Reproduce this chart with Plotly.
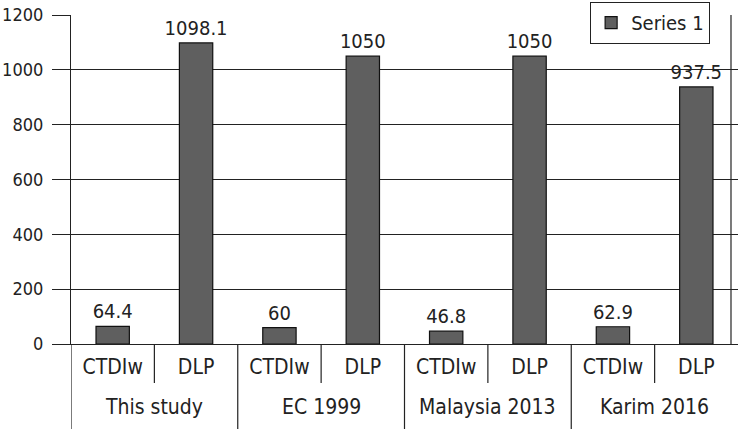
import plotly.graph_objects as go

groups = ["This study", "EC 1999", "Malaysia 2013", "Karim 2016"]
metrics = ["CTDIw", "DLP", "CTDIw", "DLP", "CTDIw", "DLP", "CTDIw", "DLP"]
values = [64.4, 1098.1, 60, 1050, 46.8, 1050, 62.9, 937.5]
labels = ["64.4", "1098.1", "60", "1050", "46.8", "1050", "62.9", "937.5"]
y_ticks = [0, 200, 400, 600, 800, 1000, 1200]

FONT = "DejaVu Sans Condensed, Liberation Sans Narrow, Arial Narrow, sans-serif"
INK = "#222"
positions = list(range(len(values)))

fig = go.Figure()
fig.add_trace(go.Bar(
    x=positions, y=values, name="Series 1",
    text=labels, textposition="outside", cliponaxis=False, constraintext="none",
    textfont=dict(size=20, color=INK),
    marker=dict(color="#5f5f5f", line=dict(color="#111", width=1.2)),
    width=0.4, showlegend=True,
))

fig.update_layout(
    width=738, height=429,
    margin=dict(l=71, r=0, t=15, b=85),
    paper_bgcolor="white", plot_bgcolor="white",
    font=dict(family=FONT, size=21, color=INK),
    showlegend=True,
    legend=dict(x=0.778, y=1.04, xanchor="left", yanchor="top",
                bgcolor="white", bordercolor=INK, borderwidth=1.2,
                font=dict(size=20), tracegroupgap=0),
    xaxis=dict(range=[-0.5, len(values) - 0.5], tickvals=positions, ticktext=metrics,
               showline=True, linecolor=INK, linewidth=1.2, ticks="", showgrid=False,
               zeroline=False, automargin=False, ticklabelstandoff=4,
               tickfont=dict(size=21)),
    yaxis=dict(range=[0, 1200], tickvals=y_ticks, showgrid=True, gridcolor=INK,
               gridwidth=1.2, showline=True, linecolor=INK, linewidth=1.2,
               ticks="outside", ticklen=18, tickcolor=INK, tickwidth=1.2,
               ticklabelstandoff=5, zeroline=False, automargin=False,
               tickfont=dict(size=18)),
)

# group labels and divider lines below the axis
for gi, g in enumerate(groups):
    center = gi * 2 + 0.5
    fig.add_annotation(x=center, xref="x", y=-0.19, yref="paper", text=g,
                       showarrow=False, yanchor="middle", font=dict(size=21, color=INK))
for gi in range(len(groups)):
    left = gi * 2 - 0.5
    fig.add_shape(type="line", xref="x", yref="paper", x0=left, x1=left,
                  y0=0, y1=-0.26, line=dict(color=INK, width=1.2))
    mid = gi * 2 + 0.5
    fig.add_shape(type="line", xref="x", yref="paper", x0=mid, x1=mid,
                  y0=0, y1=-0.1185, line=dict(color=INK, width=1.2))

fig.add_shape(type="line", xref="paper", yref="paper", x0=0.9895, x1=0.9895,
              y0=0, y1=1, line=dict(color=INK, width=1.2))

fig.write_html("out.html", config={"displayModeBar": False},
               post_script="document.body.style.margin='0';")
